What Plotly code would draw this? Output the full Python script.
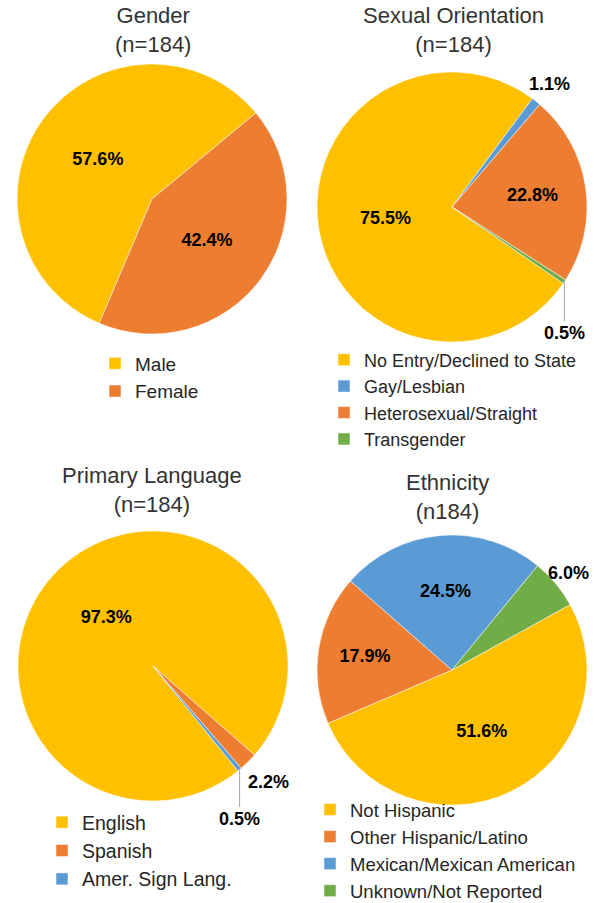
import math
import plotly.graph_objects as go

# ---- data ----
gender_labels = ["Male", "Female"]
gender_values = [57.6, 42.4]

orient_labels = ["No Entry/Declined to State", "Gay/Lesbian", "Heterosexual/Straight", "Transgender"]
orient_values = [75.5, 1.1, 22.8, 0.5]

lang_labels = ["English", "Spanish", "Amer. Sign Lang."]
lang_values = [97.3, 2.2, 0.5]

eth_labels = ["Not Hispanic", "Other Hispanic/Latino", "Mexican/Mexican American", "Unknown/Not Reported"]
eth_values = [51.6, 17.9, 24.5, 6.0]

titles = ["Gender<br>(n=184)", "Sexual Orientation<br>(n=184)", "Primary Language<br>(n=184)", "Ethnicity<br>(n184)"]

YEL, ORA, BLU, GRN = "#FFC000", "#ED7D31", "#5B9BD5", "#70AD47"

W, H = 594, 903
FONT = "Liberation Sans, Arial, sans-serif"
R = 135  # pie radius in px
LBL_FONT = dict(family=FONT, size=18, color="black", weight="bold")


def px_dom(cx, cy):
    return dict(x=[(cx - R) / W, (cx + R) / W], y=[1 - (cy + R) / H, 1 - (cy - R) / H])


def pie(labels, values, colors, positions, rotation, center, legend):
    return go.Pie(
        labels=labels, values=values, sort=False, direction="clockwise",
        rotation=rotation, domain=px_dom(*center), legend=legend,
        marker=dict(colors=colors, line=dict(color="white", width=0.5)),
        texttemplate="%{value:.1f}%", textposition=positions,
        textfont=LBL_FONT,
        hoverinfo="label+value", showlegend=True,
    )


def mid_point(values, idx, rotation, center, dist):
    total = sum(values)
    mid = rotation + (sum(values[:idx]) + values[idx] / 2) / total * 360
    th = math.radians(mid)
    return center[0] + dist * math.sin(th), center[1] - dist * math.cos(th)


def edge_label(fig, values, idx, rotation, center, dy):
    """Label for a thin slice with a vertical leader line from the pie edge."""
    tx, ty = mid_point(values, idx, rotation, center, R)
    fig.add_annotation(
        text=f"{values[idx]:.1f}%", x=tx / W, y=1 - ty / H, xref="paper", yref="paper",
        showarrow=True, arrowhead=0, arrowwidth=1, arrowcolor="#A6A6A6",
        ax=0, ay=dy, standoff=0, font=LBL_FONT,
    )


def out_label(fig, values, idx, rotation, center, gap):
    """Label just outside a small slice, along its middle angle."""
    tx, ty = mid_point(values, idx, rotation, center, R + gap)
    fig.add_annotation(
        text=f"{values[idx]:.1f}%", x=tx / W, y=1 - ty / H, xref="paper", yref="paper",
        xanchor="center", yanchor="middle", showarrow=False, font=LBL_FONT,
    )


C_GEN, C_ORI, C_LAN, C_ETH = (152, 199), (452, 207), (153, 666), (452, 670)
ROT = [203, 124.5, 141, 61]

fig = go.Figure()
fig.add_trace(pie(gender_labels, gender_values, [YEL, ORA], ["inside", "inside"],
                  ROT[0], C_GEN, "legend"))
fig.add_trace(pie(orient_labels, orient_values, [YEL, BLU, ORA, GRN],
                  ["inside", "none", "inside", "none"],
                  ROT[1], C_ORI, "legend2"))
fig.add_trace(pie(lang_labels, lang_values, [YEL, ORA, BLU],
                  ["inside", "none", "none"],
                  ROT[2], C_LAN, "legend3"))
fig.add_trace(pie(eth_labels, eth_values, [YEL, ORA, BLU, GRN],
                  ["inside", "inside", "inside", "none"],
                  ROT[3], C_ETH, "legend4"))

out_label(fig, orient_values, 1, ROT[1], C_ORI, 22)
edge_label(fig, orient_values, 3, ROT[1], C_ORI, 51)
out_label(fig, lang_values, 1, ROT[2], C_LAN, 29)
edge_label(fig, lang_values, 2, ROT[2], C_LAN, 49)
out_label(fig, eth_values, 3, ROT[3], C_ETH, 16)

title_pos = [(153, 30), (453, 30), (152, 490), (447, 497)]
for t, (x, y) in zip(titles, title_pos):
    fig.add_annotation(text=t, x=x / W, y=1 - y / H, xref="paper", yref="paper",
                       xanchor="center", yanchor="middle", showarrow=False,
                       font=dict(family=FONT, size=22, color="#333333"))


def leg(xpx, ypx, size):
    return dict(x=xpx / W, y=1 - ypx / H, xanchor="left", yanchor="top",
                bgcolor="rgba(0,0,0,0)", itemclick=False,
                font=dict(family=FONT, size=size, color="#262626"))


fig.update_layout(
    width=W, height=H, margin=dict(l=0, r=0, t=0, b=0, autoexpand=False),
    paper_bgcolor="white", plot_bgcolor="white",
    legend=leg(95, 344.5, 19),
    legend2=leg(324, 341.5, 18),
    legend3=leg(42, 803, 19.5),
    legend4=leg(310, 791, 18.5),
)

fig.write_html("out.html", config={"displayModeBar": False},
               post_script="document.body.style.margin='0';")
